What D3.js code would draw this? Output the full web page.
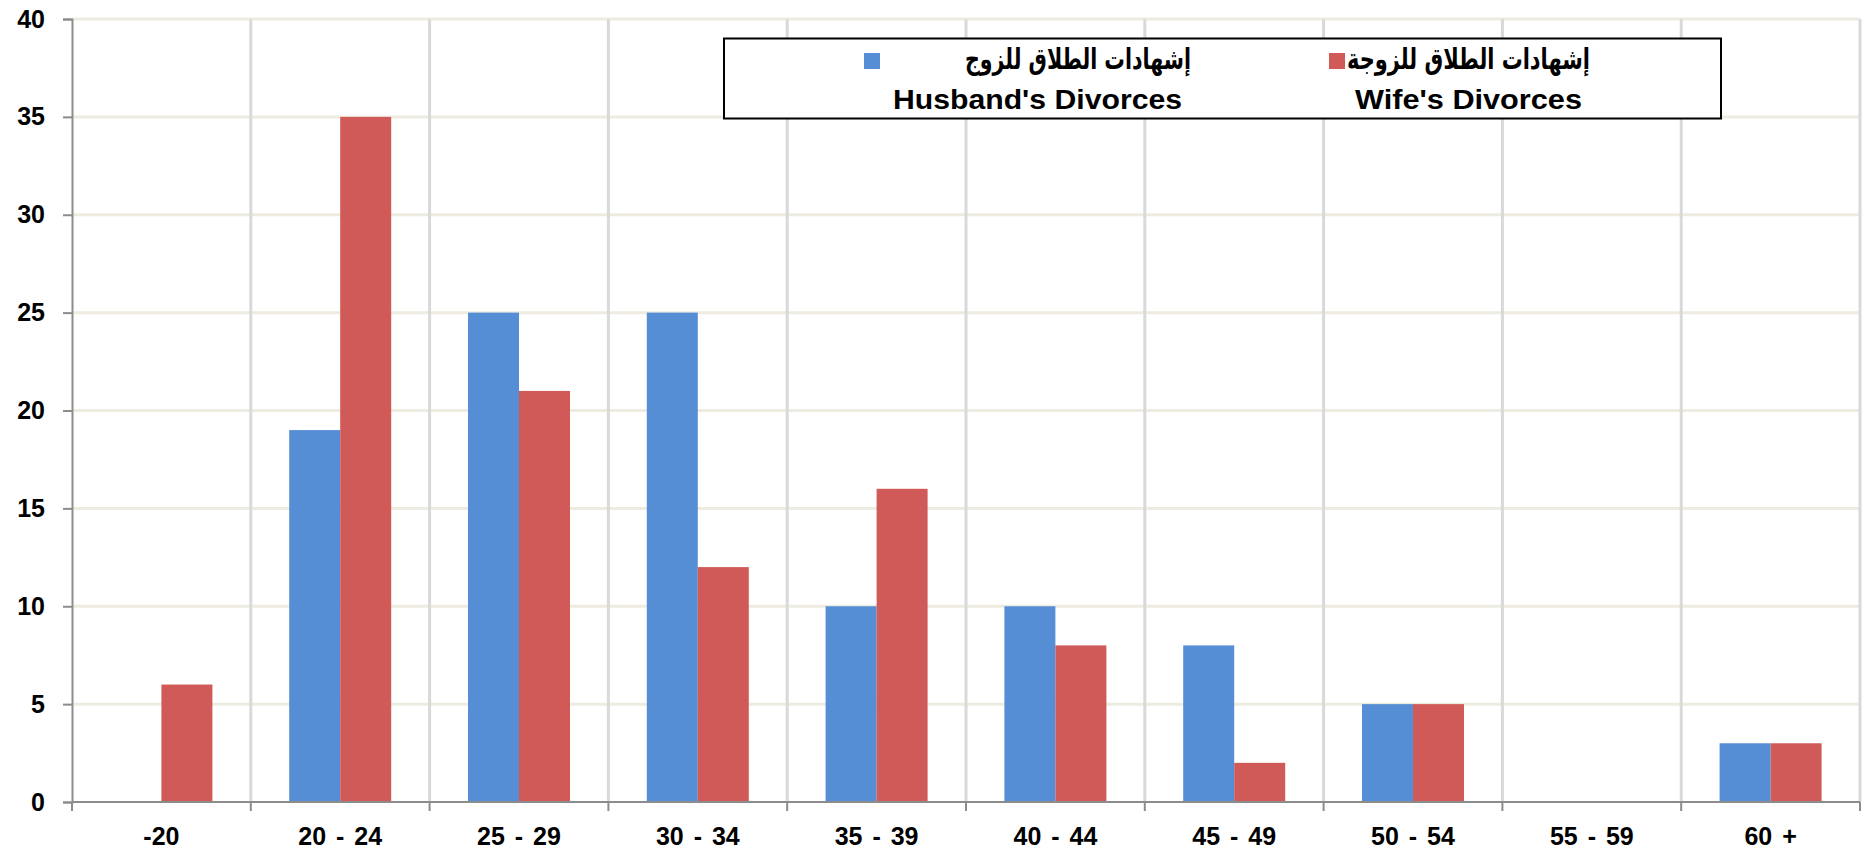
<!DOCTYPE html>
<html>
<head>
<meta charset="utf-8">
<script src="https://cdn.jsdelivr.net/npm/d3@7"></script>
<style>
  html, body { margin: 0; padding: 0; background: #fff; }
  svg { display: block; }
  text { font-family: "Liberation Sans", Arial, "DejaVu Sans", sans-serif; font-weight: bold; fill: #000; }
</style>
</head>
<body>
<svg id="chart" width="1869" height="854"></svg>
<script>
const categories = ["-20", "20 - 24", "25 - 29", "30 - 34", "35 - 39", "40 - 44", "45 - 49", "50 - 54", "55 - 59", "60 +"];
const husbandValues = [0, 19, 25, 25, 10, 10, 8, 5, 0, 3];
const wifeValues = [6, 35, 21, 12, 16, 8, 2, 5, 0, 3];
const seriesKeys = ["husband", "wife"];
const seriesColors = ["#558ed5", "#d05a58"];
const yTicks = [0, 5, 10, 15, 20, 25, 30, 35, 40];
const legendArabic = ["إشهادات الطلاق للزوج", "إشهادات الطلاق للزوجة"];
const legendEnglish = ["Husband's Divorces", "Wife's Divorces"];

const rows = categories.map((c, i) => ({ cat: c, husband: husbandValues[i], wife: wifeValues[i] }));

const svg = d3.select("#chart");
const plotLeft = 72, plotRight = 1860, plotTop = 19, plotBottom = 802;

const x0 = d3.scaleBand().domain(categories).range([plotLeft, plotRight]).paddingInner(0).paddingOuter(0);
const x1 = d3.scaleBand().domain(seriesKeys).range([0, x0.bandwidth()]).paddingInner(0).paddingOuter(0.753);
const y = d3.scaleLinear().domain([0, 40]).range([plotBottom, plotTop]);
const color = d3.scaleOrdinal().domain(seriesKeys).range(seriesColors);

// horizontal gridlines
svg.append("g").selectAll("line").data(yTicks.filter(t => t > 0)).join("line")
  .attr("x1", plotLeft).attr("x2", plotRight)
  .attr("y1", d => y(d)).attr("y2", d => y(d))
  .attr("stroke", "#eeece1").attr("stroke-width", 3);

// vertical gridlines at category boundaries
const boundaries = categories.map(c => x0(c)).concat([plotRight]);
svg.append("g").selectAll("line").data(boundaries.slice(1)).join("line")
  .attr("x1", d => d).attr("x2", d => d)
  .attr("y1", plotTop).attr("y2", plotBottom)
  .attr("stroke", "#d9d9d9").attr("stroke-width", 3);

// bars
svg.append("g").selectAll("g").data(rows).join("g")
  .attr("transform", d => `translate(${x0(d.cat)},0)`)
  .selectAll("rect").data(d => seriesKeys.map(k => ({ key: k, value: d[k] }))).join("rect")
  .attr("x", d => x1(d.key))
  .attr("width", x1.bandwidth())
  .attr("y", d => y(d.value))
  .attr("height", d => plotBottom - y(d.value))
  .attr("fill", d => color(d.key));

// y axis
const yAxis = svg.append("g").attr("transform", `translate(${plotLeft},0)`)
  .call(d3.axisLeft(y).tickValues(yTicks).tickSize(9).tickPadding(18));
yAxis.select(".domain").attr("stroke", "#8c8c8c").attr("stroke-width", 2);
yAxis.selectAll(".tick line").attr("stroke", "#8c8c8c").attr("stroke-width", 2);
yAxis.selectAll(".tick text").style("font-size", "25px").style("font-family", "'Liberation Sans', Arial, sans-serif").style("font-weight", "bold").attr("fill", "#000");

// x axis labels
const xAxis = svg.append("g").attr("transform", `translate(0,${plotBottom})`)
  .call(d3.axisBottom(x0).tickSize(0).tickPadding(25));
xAxis.select(".domain").remove();
xAxis.selectAll(".tick text").style("font-size", "25px").style("font-family", "'Liberation Sans', Arial, sans-serif").style("font-weight", "bold").style("word-spacing", "3px").attr("fill", "#000");

// x axis line and boundary ticks
svg.append("line").attr("x1", plotLeft).attr("x2", plotRight).attr("y1", plotBottom).attr("y2", plotBottom)
  .attr("stroke", "#8c8c8c").attr("stroke-width", 2);
svg.append("g").selectAll("line").data(boundaries).join("line")
  .attr("x1", d => d).attr("x2", d => d).attr("y1", plotBottom).attr("y2", plotBottom + 9)
  .attr("stroke", "#8c8c8c").attr("stroke-width", 2);

// legend
const lg = svg.append("g");
lg.append("rect").attr("x", 724).attr("y", 38.5).attr("width", 997).attr("height", 80)
  .attr("fill", "#fff").attr("stroke", "#000").attr("stroke-width", 2);

const legendItems = [
  { sq: 864, ar: 965, arW: 226, en: 893, enW: 289 },
  { sq: 1329, ar: 1347, arW: 243, en: 1355, enW: 227 }
];
legendItems.forEach((it, i) => {
  lg.append("rect").attr("x", it.sq).attr("y", 53).attr("width", 16).attr("height", 16)
    .attr("fill", seriesColors[i]);
  lg.append("text").attr("x", it.ar).attr("y", 69)
    .attr("textLength", it.arW).attr("lengthAdjust", "spacingAndGlyphs")
    .style("font-size", "29px").style("font-family", "'DejaVu Sans', sans-serif")
    .text(legendArabic[i]);
  lg.append("text").attr("x", it.en).attr("y", 108.5)
    .attr("textLength", it.enW).attr("lengthAdjust", "spacingAndGlyphs")
    .style("font-size", "27px")
    .text(legendEnglish[i]);
});
</script>
</body>
</html>
